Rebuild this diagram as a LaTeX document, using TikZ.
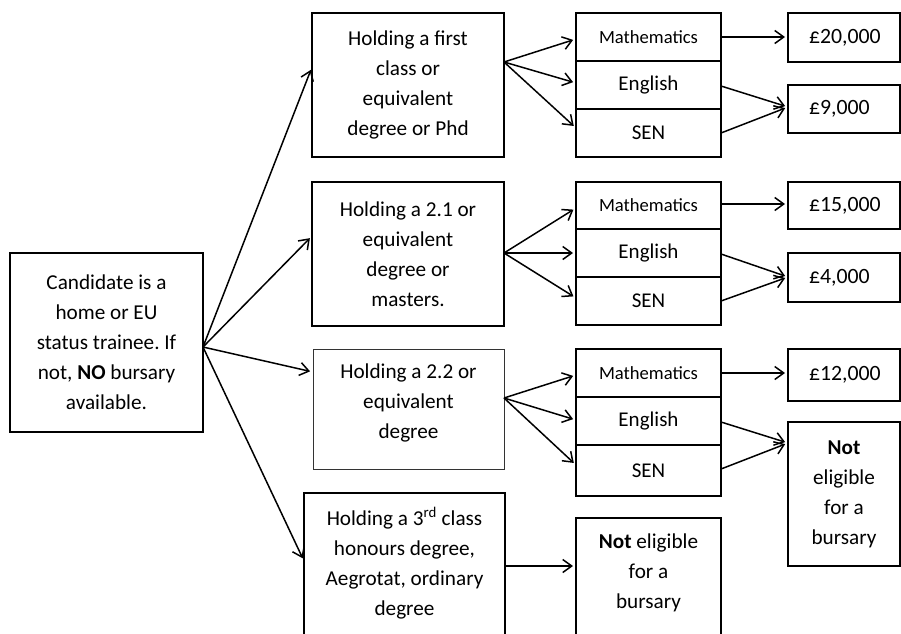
\documentclass[tikz,border=0pt]{standalone}
\usepackage{fontspec}
\setmainfont{Carlito}
\usetikzlibrary{arrows.meta,calc}
\frenchspacing
\begin{document}
\begin{tikzpicture}[x=1pt,y=-1pt,
  every node/.style={inner sep=0pt, outer sep=0pt},
  bx/.style={draw=black, line width=1.5pt, rectangle, align=center,
     font=\fontsize{21.2}{30}\selectfont},
  subj/.style={draw=black, line width=1.5pt, rectangle, minimum width=145pt,
     font=\fontsize{21}{24}\selectfont},
  mathsubj/.style={subj, font=\fontsize{18.6}{22}\selectfont},
  amt/.style={draw=black, line width=1.5pt, rectangle, text width=70pt,
     inner xsep=21pt, align=left, font=\fontsize{21.8}{24}\selectfont},
  txt/.style={align=center, font=\fontsize{21.2}{30}\selectfont},
  arr/.style={line width=1.5pt, -{Straight Barb[length=9pt,width=13pt,line width=1.5pt]}, shorten >=3pt}
]
\useasboundingbox (0,0) rectangle (901,633);

% left box
\node[bx, minimum width=193pt, minimum height=179pt] (L) at (106.5,342.5)
  {Candidate is a\\home or EU\\status trainee. If\\not, \textbf{NO} bursary\\available.};

% degree boxes
\node[bx, minimum width=192pt, minimum height=144pt] (b1) at (408,85)
  {Holding a first\\class or\\equivalent\\degree or Phd};
\node[bx, minimum width=192pt, minimum height=144pt] (b2) at (408,254)
  {Holding a 2.1 or\\equivalent\\degree or\\masters.};
\node[bx, draw=black!80, line width=1pt, minimum width=191pt, minimum height=120pt] (b3) at (408.5,409) {};
\node[txt] (t3) at (408.5,403) {Holding a 2.2 or\\equivalent\\degree};
\node[bx, minimum width=201pt, minimum height=187pt] (b4) at (404.5,586.5) {};
\node[txt] (t4) at (404.5,563) {Holding a 3\textsuperscript{rd} class\\honours degree,\\Aegrotat, ordinary\\degree};

% subject boxes
\node[mathsubj, minimum height=48pt] (m1) at (648.5,37) {Mathematics};
\node[subj, minimum height=48pt] (e1) at (648.5,85) {English};
\node[subj, minimum height=48pt] (s1) at (648.5,133) {SEN};
\node[mathsubj, minimum height=47pt] (m2) at (648.5,205.5) {Mathematics};
\node[subj, minimum height=48pt] (e2) at (648.5,253) {English};
\node[subj, minimum height=48pt] (s2) at (648.5,301) {SEN};
\node[mathsubj, minimum height=48pt] (m3) at (648.5,373) {Mathematics};
\node[subj, minimum height=48pt] (e3) at (648.5,421) {English};
\node[subj, minimum height=51pt] (s3) at (648.5,470.5) {SEN};

% bottom not eligible
\node[bx, minimum width=145pt, minimum height=162pt] (n4) at (648.5,599) {};
\node[txt] (tn4) at (648.5,573) {\textbf{Not} eligible\\for a\\bursary};

% amounts
\node[amt, minimum height=49pt] (a1) at (844,37.5) {£20,000};
\node[amt, minimum height=48pt] (a2) at (844,109) {£9,000};
\node[amt, minimum height=47pt] (a3) at (844,205.5) {£15,000};
\node[amt, minimum height=49pt] (a4) at (844,277.5) {£4,000};
\node[amt, minimum height=52pt] (a5) at (844,375) {£12,000};
\node[bx, minimum width=112pt, minimum height=144pt] (n3) at (844,494)
  {\textbf{Not}\\eligible\\for a\\bursary};

% arrows from left box
\draw[arr] (L.east |- 0,347) -- (b1.west |- 0,67);
\draw[arr] (L.east |- 0,347) -- (b2.west |- 0,236);
\draw[arr] (L.east |- 0,347) -- (b3.west |- 0,372);
\draw[arr] (L.east |- 0,347) -- (b4.west |- 0,561);

% degree to subjects
\draw[arr] (b1.east |- 0,62) -- (m1.west |- 0,39);
\draw[arr] (b1.east |- 0,62) -- (e1.west |- 0,83);
\draw[arr] (b1.east |- 0,62) -- (s1.west |- 0,128);
\draw[arr] (b2.east |- 0,253) -- (m2.west |- 0,208);
\draw[arr] (b2.east |- 0,253) -- (e2.west |- 0,253);
\draw[arr] (b2.east |- 0,253) -- (s2.west |- 0,298);
\draw[arr] (b3.east |- 0,398) -- (m3.west |- 0,375);
\draw[arr] (b3.east |- 0,398) -- (e3.west |- 0,420);
\draw[arr] (b3.east |- 0,398) -- (s3.west |- 0,465);
\draw[arr] (b4.east |- 0,566) -- (n4.west |- 0,566);

% subjects to amounts
\draw[arr] (m1.east |- 0,37) -- (a1.west |- 0,37);
\draw[arr] (e1.east |- 0,86) -- (a2.west |- 0,107);
\draw[arr] (s1.east |- 0,133) -- (a2.west |- 0,107);
\draw[arr] (m2.east |- 0,204) -- (a3.west |- 0,204);
\draw[arr] (e2.east |- 0,254) -- (a4.west |- 0,277);
\draw[arr] (s2.east |- 0,301) -- (a4.west |- 0,277);
\draw[arr] (m3.east |- 0,373) -- (a5.west |- 0,373);
\draw[arr] (e3.east |- 0,422) -- (n3.west |- 0,443);
\draw[arr] (s3.east |- 0,469) -- (n3.west |- 0,443);
\end{tikzpicture}
\end{document}
